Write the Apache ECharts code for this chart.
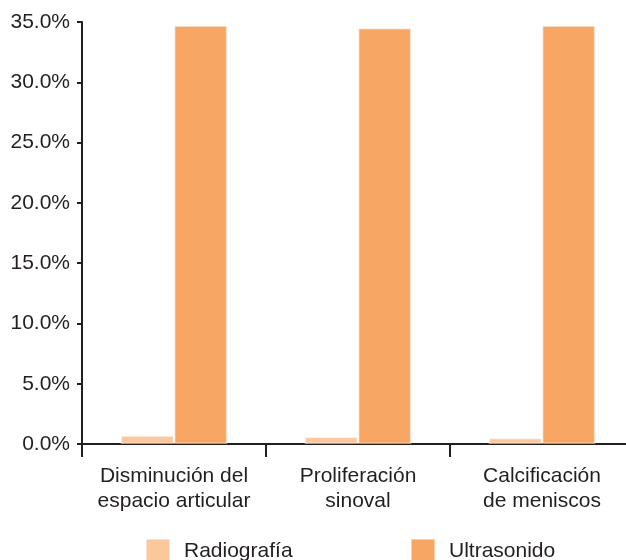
<!DOCTYPE html>
<html>
<head>
<meta charset="utf-8">
<script src="https://cdn.jsdelivr.net/npm/echarts@6/dist/echarts.min.js"></script>
<style>
  html, body { margin: 0; padding: 0; background: #ffffff; overflow: hidden; }
  /* the plot runs slightly past the right edge of the page */
  #chart { width: 640px; height: 560px; }
</style>
</head>
<body>
<div id="chart"></div>
<script>
// Hallazgos por método de imagen (% de pacientes)
const categories = [
  'Disminución del\nespacio articular',
  'Proliferación\nsinoval',
  'Calcificación\nde meniscos'
];
const radiografia = [0.7, 0.6, 0.5];
const ultrasonido = [34.7, 34.5, 34.7];
const yTicks = { min: 0, max: 35, interval: 5 };

const FONT = '"Liberation Sans", Arial, sans-serif';
const INK = '#231f20';
const LIGHT = '#fbc79c';
const ORANGE = '#f8a664';

const chart = echarts.init(document.getElementById('chart'), null, { renderer: 'canvas' });

const legendBase = {
  top: 538,
  padding: 0,
  itemWidth: 24, itemHeight: 24,
  icon: 'rect',
  textStyle: { fontFamily: FONT, fontSize: 21, color: INK, padding: [0, 0, 0, 9] }
};

chart.setOption({
  animation: false,
  backgroundColor: '#ffffff',
  textStyle: { fontFamily: FONT },
  grid: { left: 82, top: 22, width: 552, bottom: 116, containLabel: false },
  legend: [
    Object.assign({ data: ['Radiografía'], left: 145 }, legendBase),
    Object.assign({ data: ['Ultrasonido'], left: 410 }, legendBase)
  ],
  xAxis: {
    type: 'category',
    data: categories,
    boundaryGap: true,
    axisLine: { show: true, lineStyle: { color: INK, width: 2 } },
    axisTick: { show: true, length: 13, lineStyle: { color: INK, width: 2 } },
    axisLabel: {
      fontFamily: FONT, fontSize: 21, color: INK,
      lineHeight: 25, margin: 20, interval: 0
    },
    splitLine: { show: false }
  },
  yAxis: {
    type: 'value',
    min: yTicks.min, max: yTicks.max, interval: yTicks.interval,
    axisLine: { show: true, lineStyle: { color: INK, width: 2 } },
    axisTick: { show: true, length: 5, lineStyle: { color: INK, width: 2 } },
    axisLabel: {
      fontFamily: FONT, fontSize: 21, color: INK, margin: 12,
      formatter: v => v.toFixed(1) + '%'
    },
    splitLine: { show: false }
  },
  series: [
    {
      name: 'Radiografía',
      type: 'bar',
      data: radiografia,
      barGap: '0%',
      barCategoryGap: '42%',
      itemStyle: { color: LIGHT, borderColor: 'rgba(255,255,255,0.45)', borderWidth: 1.5 }
    },
    {
      name: 'Ultrasonido',
      type: 'bar',
      data: ultrasonido,
      barGap: '0%',
      barCategoryGap: '42%',
      itemStyle: { color: ORANGE, borderColor: 'rgba(255,255,255,0.45)', borderWidth: 1.5 }
    }
  ]
});
</script>
</body>
</html>
